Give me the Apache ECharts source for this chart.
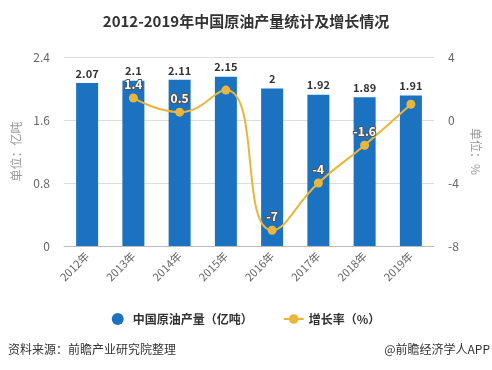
<!DOCTYPE html>
<html><head><meta charset="utf-8">
<script src="https://cdn.jsdelivr.net/npm/echarts@6/dist/echarts.min.js"></script>
<style>html,body{margin:0;padding:0;background:#fff}#c{width:492px;height:370px}</style>
</head><body><div id="c"></div>
<script>
var categories = ['2012年','2013年','2014年','2015年','2016年','2017年','2018年','2019年'];
var production = [2.07, 2.1, 2.11, 2.15, 2, 1.92, 1.89, 1.91];
var growth = [null, 1.4, 0.5, 1.9, -7, -4, -1.6, 1.0];
var growthLabelShown = [false, true, true, false, true, true, true, false];
var leftTicks = [0, 0.8, 1.6, 2.4];
var rightTicks = [-8, -4, 0, 4];

var chart = echarts.init(document.getElementById('c'));
var font = '"Microsoft YaHei","Noto Sans CJK SC",sans-serif';
chart.setOption({
  animation: false,
  textStyle: {fontFamily: font},
  title: {text: '2012-2019年中国原油产量统计及增长情况', left: 'center', top: 9,
    textStyle: {fontSize: 15, fontWeight: 'bold', color: '#333', fontFamily: font}},
  grid: {left: 64, right: 58, top: 57, bottom: 124},
  legend: {bottom: 40, left: 'center', itemGap: 30, itemWidth: 20, itemHeight: 12,
    textStyle: {fontSize: 12, color: '#333', fontWeight: 'bold'},
    data: [{name: '中国原油产量（亿吨）', icon: 'circle'}, {name: '增长率（%）'}]},
  xAxis: {type: 'category', data: categories,
    axisTick: {alignWithLabel: true, lineStyle: {color: '#bbb'}},
    axisLine: {lineStyle: {color: '#bbb'}},
    axisLabel: {rotate: 45, color: '#666', fontSize: 11, margin: 8}},
  yAxis: [
    {type: 'value', min: leftTicks[0], max: leftTicks[leftTicks.length-1], interval: 0.8,
     name: '单位：亿吨', nameLocation: 'middle', nameGap: 40, nameRotate: 90,
     nameTextStyle: {color: '#999', fontSize: 12},
     axisLabel: {color: '#666', fontSize: 12, margin: 14}, axisLine: {show: false}, axisTick: {show: false},
     splitLine: {lineStyle: {color: '#ddd'}}},
    {type: 'value', min: rightTicks[0], max: rightTicks[rightTicks.length-1], interval: 4,
     name: '单位：%', nameLocation: 'middle', nameGap: 30, nameRotate: -90,
     nameTextStyle: {color: '#999', fontSize: 12},
     axisLabel: {color: '#666', fontSize: 12, margin: 14}, axisLine: {show: false}, axisTick: {show: false},
     splitLine: {show: false}}
  ],
  series: [
    {name: '中国原油产量（亿吨）', type: 'bar', data: production, barWidth: 22,
     itemStyle: {color: '#1a72c0'},
     label: {show: true, position: 'top', color: '#333', fontWeight: 'bold', fontSize: 11, distance: 4}},
    {name: '增长率（%）', type: 'line', yAxisIndex: 1, smooth: true,
     data: growth.map(function(v, i){ return {value: v, label: {show: growthLabelShown[i]}}; }),
     connectNulls: false, symbol: 'circle', symbolSize: 9,
     lineStyle: {color: '#eab53b', width: 2}, itemStyle: {color: '#eab53b'},
     label: {show: true, position: 'top', color: '#fff', fontSize: 12, fontWeight: 'bold',
       textBorderColor: '#555', textBorderWidth: 2, distance: 3}}
  ],
  graphic: [
    {type: 'text', left: 8, top: 343, style: {text: '资料来源：前瞻产业研究院整理', fill: '#333', fontSize: 12, fontFamily: font}},
    {type: 'text', right: 2, top: 343, style: {text: '@前瞻经济学人APP', fill: '#333', fontSize: 12, fontFamily: font}}
  ]
});
</script></body></html>
